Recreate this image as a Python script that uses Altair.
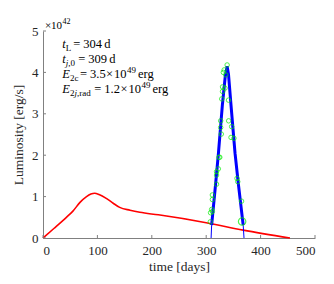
import altair as alt
import pandas as pd

SERIF = "Liberation Serif"

# red curve (time [days], luminosity [1e42 erg/s])
red_day = [0, 20, 43, 55, 68, 80, 88, 95, 103, 117, 129, 141, 160, 178, 212, 300, 368, 454]
red_lum = [0, 0.23, 0.5, 0.65, 0.86, 1.0, 1.06, 1.08, 1.05, 0.95, 0.84, 0.74, 0.67, 0.62, 0.56, 0.37, 0.19, 0]

# blue model curve
blue_day = [309, 310, 317.4, 322.5, 329.7, 335, 338.5, 341, 345.6, 353, 359, 368, 369.5]
blue_lum = [0, 0.31, 1.32, 2.05, 3.21, 3.9, 4.15, 3.95, 3.21, 2.05, 1.32, 0.31, 0]

# green observed points
obs_day = [338.5, 333, 331.5, 336, 330, 334.6, 330, 328.5, 341, 326.6, 341.3, 326.6, 346.8,
           327.8, 345.6, 351, 323.5, 325, 322.3, 319, 319, 319, 356.6, 358, 311.3, 311.3,
           310, 311.3, 308, 365, 307.5]
obs_lum = [4.18, 4.06, 4.0, 3.94, 3.65, 3.62, 3.54, 3.36, 3.33, 2.83, 2.83, 2.67, 2.69,
           2.51, 2.43, 2.41, 1.95, 1.95, 1.67, 1.6, 1.52, 1.30, 1.44, 1.36, 1.04, 0.93,
           0.69, 0.64, 0.61, 0.89, 0.39]
big_day = [366]
big_lum = [0.40]

x_ticks = [0, 100, 200, 300, 400, 500]
y_ticks = [0, 1, 2, 3, 4, 5]

red_df = pd.DataFrame({"day": red_day, "lum": red_lum})
blue_df = pd.DataFrame({"day": blue_day, "lum": blue_lum})
blue_thick_df = blue_df.iloc[1:-1]
obs_df = pd.DataFrame({"day": obs_day, "lum": obs_lum})
big_df = pd.DataFrame({"day": big_day, "lum": big_lum})
xt_df = pd.DataFrame({"t": x_ticks})
yt_df = pd.DataFrame({"t": y_ticks})
one = pd.DataFrame({"a": [0]})

xs = alt.Scale(domain=[0, 500], nice=False)
ys = alt.Scale(domain=[0, 5], nice=False)

red = alt.Chart(red_df).mark_line(color="#ff0000", strokeWidth=1.6, interpolate="monotone").encode(
    x=alt.X("day:Q", scale=xs, axis=alt.Axis(title="time [days]", values=x_ticks, format="d")),
    y=alt.Y("lum:Q", scale=ys, axis=alt.Axis(title="Luminosity [erg/s]", values=y_ticks, format="d")),
)
blue_thin = alt.Chart(blue_df).mark_line(color="#0000ff", strokeWidth=1).encode(
    x=alt.X("day:Q", scale=xs), y=alt.Y("lum:Q", scale=ys))
blue_thick = alt.Chart(blue_thick_df).mark_line(color="#0000ff", strokeWidth=3).encode(
    x=alt.X("day:Q", scale=xs), y=alt.Y("lum:Q", scale=ys))
pts = alt.Chart(obs_df).mark_point(shape="circle", filled=False, color="#00ee00", size=20, strokeWidth=1).encode(
    x=alt.X("day:Q", scale=xs), y=alt.Y("lum:Q", scale=ys))
big = alt.Chart(big_df).mark_point(shape="circle", filled=False, color="#00ee00", size=55, strokeWidth=1.2).encode(
    x=alt.X("day:Q", scale=xs), y=alt.Y("lum:Q", scale=ys))

xtick = alt.Chart(xt_df).mark_rule(color="#808080", strokeWidth=1).encode(
    x=alt.X("t:Q", scale=xs), y=alt.value(207), y2=alt.value(204))
ytick = alt.Chart(yt_df).mark_rule(color="#808080", strokeWidth=1).encode(
    y=alt.Y("t:Q", scale=ys), x=alt.value(0), x2=alt.value(3))


def txt(s, x, y, size=12.5, italic=False):
    return alt.Chart(one).mark_text(
        text=s, align="left", baseline="alphabetic", font=SERIF, fontSize=size,
        fontStyle="italic" if italic else "normal", color="black",
    ).encode(x=alt.value(x), y=alt.value(y))


S = 9
texts = [
    # x10^42 multiplier
    txt("×", 2, -2.5, 11),
    txt("10", 8, -2.5, 11),
    txt("42", 19.5, -7.5, 8),
    # line 1
    txt("t", 19.3, 17.3, italic=True),
    txt("L", 22.7, 19.8, S),
    txt("=", 30.3, 17.3),
    txt("304", 40.3, 17.3),
    txt("d", 61.3, 17.3),
    # line 2
    txt("t", 19.3, 32.3, italic=True),
    txt("j", 22.7, 34.8, S, True),
    txt(",0", 25.2, 34.8, S),
    txt("=", 35.3, 32.3),
    txt("309", 45.3, 32.3),
    txt("d", 66.3, 32.3),
    # line 3
    txt("E", 19.3, 47.3, italic=True),
    txt("2c", 27, 49.8, S),
    txt("=", 37, 47.3),
    txt("3.5", 47, 47.3),
    txt("×", 63, 47.3),
    txt("10", 71, 47.3),
    txt("49", 84, 42.3, S),
    txt("erg", 95, 47.3),
    # line 4
    txt("E", 19.3, 62.3, italic=True),
    txt("2", 27, 64.8, S),
    txt("j", 31.5, 64.8, S, True),
    txt(",rad", 34, 64.8, S),
    txt("=", 51.3, 62.3),
    txt("1.2", 61.3, 62.3),
    txt("×", 77.5, 62.3),
    txt("10", 85.5, 62.3),
    txt("49", 98.5, 57.3, S),
    txt("erg", 109.5, 62.3),
]

chart = alt.layer(red, blue_thin, blue_thick, pts, big, xtick, ytick, *texts).properties(
    width=272, height=207,
    autosize=alt.AutoSizeParams(type="none"),
    padding={"left": 35, "top": 23, "right": 11, "bottom": 38},
).configure_view(stroke=None).configure_axis(
    grid=False, ticks=False, tickSize=0,
    domainColor="#808080", domainWidth=1,
    labelFont=SERIF, labelFontSize=13, labelColor="#262626",
    titleFont=SERIF, titleFontSize=13.5, titleFontWeight="normal", titleColor="#262626",
).configure_axisX(labelPadding=6, titlePadding=2).configure_axisY(labelPadding=5, titlePadding=6)

chart.save("out.html", embed_options={"renderer": "svg", "actions": False})
